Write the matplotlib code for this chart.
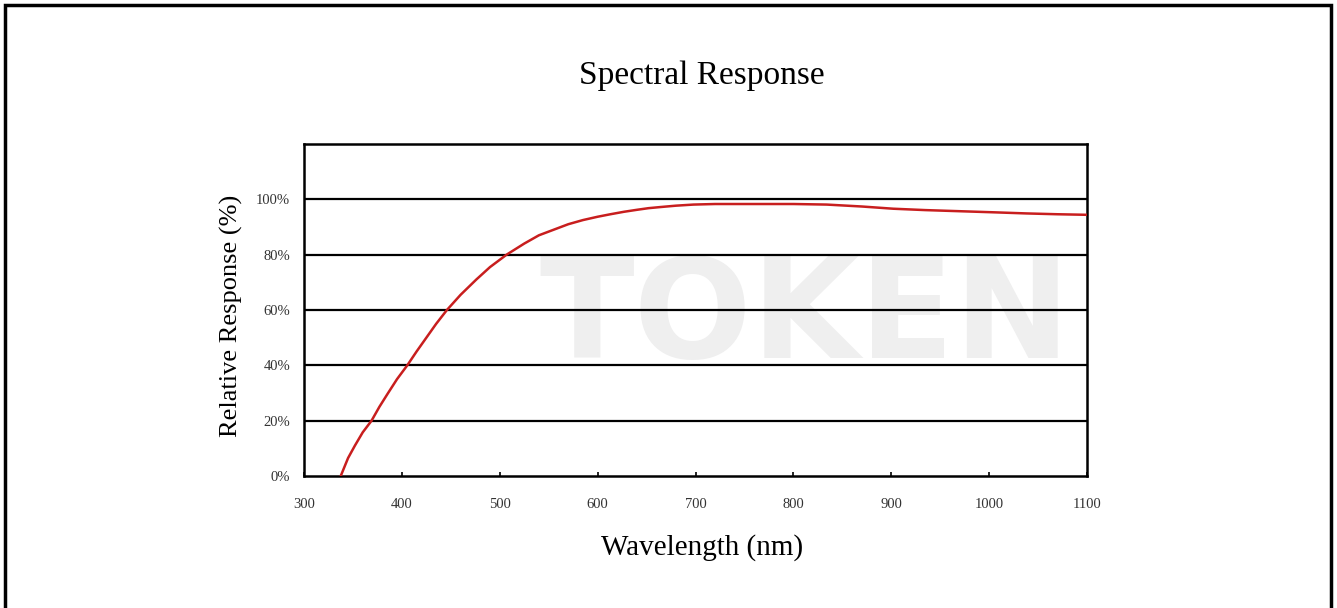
import matplotlib.pyplot as plt
from matplotlib.patches import Rectangle

# Spectral response curve
wavelength = [337.5, 345, 352, 360, 369, 377, 385, 395, 405.5, 415, 425, 435,
              446, 460, 476, 490, 507, 525, 540, 555, 570, 585, 600, 613,
              627, 640, 652, 664, 680, 698, 720, 750, 800, 834, 870, 902,
              935, 970, 1005, 1038, 1070, 1100]
response = [0, 6.5, 11, 15.8, 20, 25, 29.5, 35, 40, 45, 50, 55,
            60, 65.5, 71, 75.5, 80, 84, 87, 89, 91, 92.5, 93.7, 94.6,
            95.5, 96.2, 96.8, 97.2, 97.7, 98.1, 98.3, 98.3, 98.3, 98.1, 97.4, 96.6,
            96.1, 95.7, 95.3, 94.9, 94.6, 94.4]

x_ticks = [300, 400, 500, 600, 700, 800, 900, 1000, 1100]
y_ticks = [0, 20, 40, 60, 80, 100]
y_labels = ["0%", "20%", "40%", "60%", "80%", "100%"]

plt.rcParams["font.family"] = ["Liberation Serif", "DejaVu Serif"]

fig = plt.figure(figsize=(13.37, 6.08), dpi=100)
ax = fig.add_axes([0.2274, 0.2171, 0.5856, 0.5461])

# faint watermark
ax.text(0.64, 0.47, "TOKEN", transform=ax.transAxes, ha="center", va="center",
        fontsize=100, fontweight="bold", color="#efefef", zorder=0,
        family="DejaVu Sans")

for y in y_ticks[1:]:
    ax.axhline(y, color="black", lw=1.6, zorder=1)

ax.plot(wavelength, response, color="#c81e1e", lw=1.8, zorder=3,
        solid_joinstyle="round")

ax.set_xlim(300, 1100)
ax.set_ylim(0, 120)
ax.set_xticks(x_ticks)
ax.set_yticks(y_ticks)
ax.set_yticklabels(y_labels)
ax.tick_params(axis="x", direction="in", length=3, width=1.2, pad=16,
               labelsize=10.5, labelcolor="#333333")
ax.tick_params(axis="y", length=0, pad=10, labelsize=10.5, labelcolor="#333333")
for s in ax.spines.values():
    s.set_linewidth(1.8)

ax.set_xlabel("Wavelength (nm)", fontsize=21)
ax.xaxis.set_label_coords(0.509, -0.175)
ax.set_ylabel("Relative Response (%)", fontsize=19)
ax.yaxis.set_label_coords(-0.078, 0.482)
fig.text(0.525, 0.876, "Spectral Response", ha="center", va="center", fontsize=24)

# outer frame
fig.patches.append(Rectangle((5 / 1337, -0.02), 1326 / 1337, 1 - 5 / 608 + 0.02,
                             transform=fig.transFigure, fill=False,
                             edgecolor="black", lw=2.5))

fig.savefig("out.png", dpi=100)
